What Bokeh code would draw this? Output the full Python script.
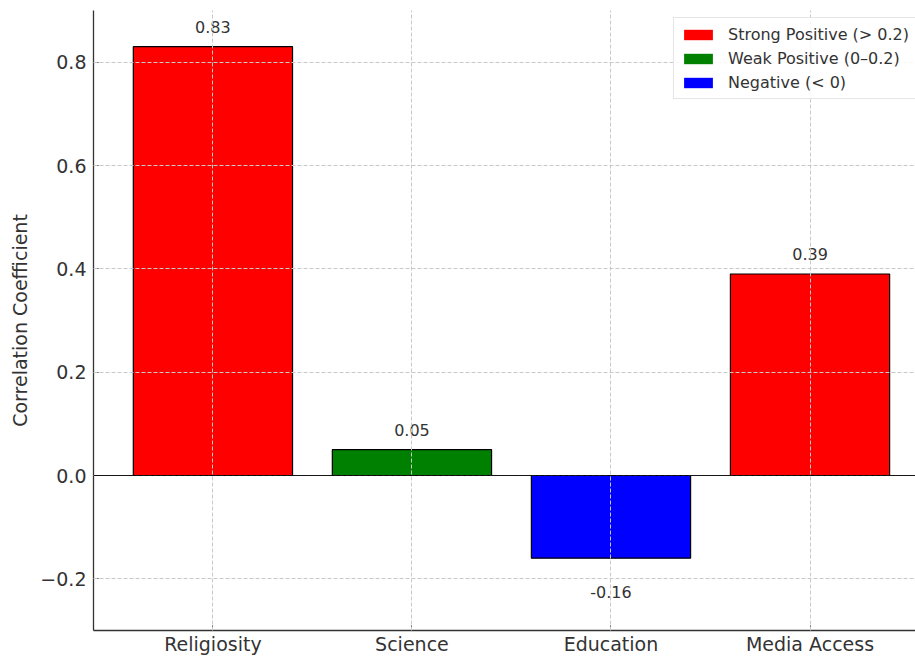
from bokeh.plotting import figure
from bokeh.models import (ColumnDataSource, FixedTicker, Span, Legend, LegendItem)
from bokeh.core.properties import value
from bokeh.embed import file_html
from bokeh.resources import INLINE

# Correlation of each factor with the outcome
categories = ["Religiosity", "Science", "Education", "Media Access"]
correlations = [0.83, 0.05, -0.16, 0.39]

# Strength classes used for the bar colours and the legend
class_names = ["Strong Positive (> 0.2)", "Weak Positive (0\u20130.2)", "Negative (< 0)"]
class_colors = ["#ff0000", "#008000", "#0000ff"]

y_ticks = [-0.2, 0.0, 0.2, 0.4, 0.6, 0.8]
y_tick_labels = ["\u22120.2", "0.0", "0.2", "0.4", "0.6", "0.8"]


def strength_class(v):
    if v < 0:
        return 2
    if v <= 0.2:
        return 1
    return 0


FONT = "DejaVu Sans"
TEXT_COLOR = "#333333"

xs = list(range(len(categories)))
colors = [class_colors[strength_class(v)] for v in correlations]
labels = ["%.2f" % v for v in correlations]
label_offsets = [-20 if v >= 0 else 34 for v in correlations]

source = ColumnDataSource(dict(x=xs, top=correlations, color=colors,
                               label=labels, yoff=label_offsets))

p = figure(width=915, height=657, output_backend="svg", toolbar_location=None,
           x_range=(-0.6, 3.53), y_range=(-0.3, 0.9),
           min_border_left=93, min_border_right=0, min_border_top=10,
           min_border_bottom=26)
p.outline_line_color = None
p.background_fill_color = "white"
p.border_fill_color = "white"

p.vbar(x="x", top="top", bottom=0, width=0.8, source=source,
       fill_color="color", line_color="black", line_width=1.2)

p.text(x="x", y="top", text="label", source=source, y_offset="yoff",
       text_align="center", text_baseline="middle",
       text_font=value(FONT), text_font_size="16px", text_color=TEXT_COLOR)

p.add_layout(Span(location=0, dimension="width", line_color="black",
                  line_width=0.9))

# Axes
p.xaxis.ticker = FixedTicker(ticks=xs)
p.xaxis.major_label_overrides = {i: c for i, c in zip(xs, categories)}
p.yaxis.ticker = FixedTicker(ticks=y_ticks)
p.yaxis.major_label_overrides = {t: s for t, s in zip(y_ticks, y_tick_labels)}
p.yaxis.axis_label = "Correlation Coefficient"

for ax in (p.xaxis[0], p.yaxis[0]):
    ax.axis_line_color = "#333333"
    ax.axis_line_width = 1.3
    ax.major_tick_in = 5
    ax.major_tick_out = 0
    ax.major_tick_line_color = "#333333"
    ax.minor_tick_line_color = None
    ax.major_label_text_font = FONT
    ax.major_label_text_font_size = "19px"
    ax.major_label_text_color = TEXT_COLOR
    ax.axis_label_text_font = FONT
    ax.axis_label_text_font_size = "19px"
    ax.axis_label_text_font_style = "normal"
    ax.axis_label_text_color = TEXT_COLOR
p.xaxis.major_label_standoff = 2
p.yaxis.major_label_standoff = 7
p.yaxis.axis_label_standoff = 6

# Dashed grid drawn above the bars
for g in (p.xgrid[0], p.ygrid[0]):
    g.grid_line_color = "#c8c8c8"
    g.grid_line_dash = "4 2"
    g.grid_line_width = 1
    g.level = "guide"
p.xgrid.ticker = FixedTicker(ticks=xs)
p.ygrid.ticker = FixedTicker(ticks=y_ticks)

# Legend swatches without outlines (proxy renderers with no visible bar)
items = []
for name, col in zip(class_names, class_colors):
    r = p.vbar(x=[float("nan")], top=[0.0], width=0.8, fill_color=col,
               line_color=None)
    items.append(LegendItem(label=name, renderers=[r]))
legend = Legend(items=items, location=(580, 531),
                label_text_font=FONT, label_text_font_size="16px",
                label_text_color=TEXT_COLOR,
                glyph_width=36, glyph_height=13, label_standoff=12,
                label_height=20, spacing=4, padding=6, margin=0,
                border_line_color="#cccccc", border_line_width=1,
                background_fill_color="white", background_fill_alpha=0.85)
p.add_layout(legend, "center")

open("out.html", "w").write(file_html(p, INLINE))
